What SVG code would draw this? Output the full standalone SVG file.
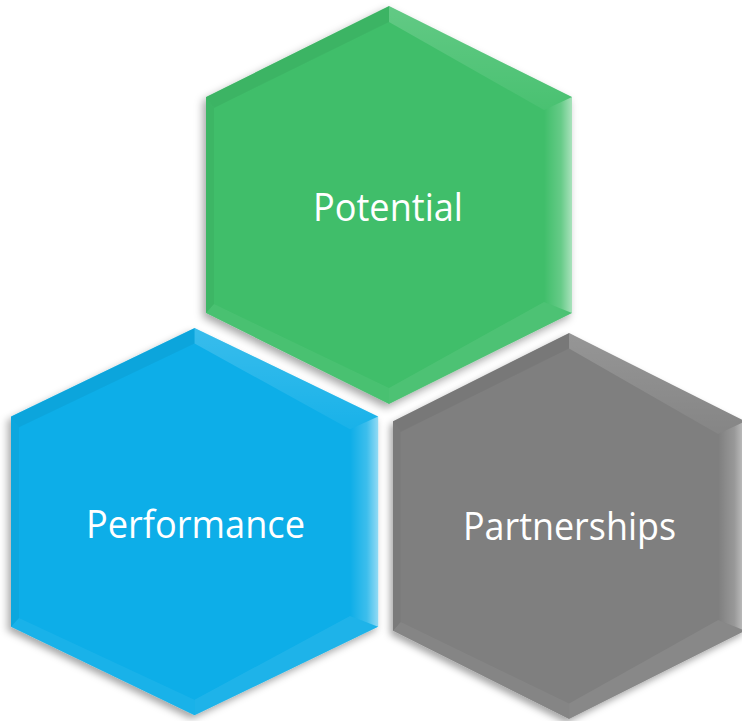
<svg xmlns="http://www.w3.org/2000/svg" xmlns:xlink="http://www.w3.org/1999/xlink" width="742" height="721" viewBox="0 0 742 721">
<style>
.lbl{font-family:"Open Sans","Noto Sans","Liberation Sans",sans-serif;font-size:38px;fill:#ffffff;text-anchor:middle}
</style>
<defs>
<filter id="sh" x="-10%" y="-10%" width="120%" height="125%">
<feDropShadow dx="-3" dy="4" stdDeviation="4" flood-color="#000" flood-opacity="0.35"/>
</filter>
<linearGradient id="rg" x1="0" y1="0" x2="1" y2="0">
<stop offset="0" stop-color="#fff" stop-opacity="0"/>
<stop offset="0.6" stop-color="#fff" stop-opacity="0.2"/>
<stop offset="1" stop-color="#fff" stop-opacity="0.55"/>
</linearGradient>
<linearGradient id="tr" x1="0" y1="0" x2="0" y2="1">
<stop offset="0" stop-color="#fff" stop-opacity="0.18"/>
<stop offset="1" stop-color="#fff" stop-opacity="0.05"/>
</linearGradient>
<polygon id="hex" points="183,0 366,91 366,307 183,398 0,307 0,91"/>
<g id="bevel">
<polygon points="183,0 0,91 8,102 183,16" fill="#000" fill-opacity="0.05"/>
<polygon points="183,0 366,91 338,104 183,16" fill="url(#tr)"/>
<polygon points="366,91 366,307 338,296 338,104" fill="url(#rg)"/>
<polygon points="366,307 183,398 183,382 338,296" fill="#fff" fill-opacity="0.07"/>
<polygon points="183,398 0,307 8,298 183,382" fill="#fff" fill-opacity="0.05"/>
<polygon points="0,307 0,91 8,102 8,298" fill="#000" fill-opacity="0.04"/>
</g>
</defs>
<g id="node-potential">
<g transform="translate(206,6)">
<use xlink:href="#hex" fill="#41be6a" filter="url(#sh)"/>
<use xlink:href="#bevel"/>
</g>
<text class="lbl" x="388" y="221" textLength="150" lengthAdjust="spacingAndGlyphs">Potential</text>
</g>
<g id="node-performance">
<g transform="translate(11,328) scale(1.003,0.973)">
<use xlink:href="#hex" fill="#0aaee8" filter="url(#sh)"/>
<use xlink:href="#bevel"/>
</g>
<text class="lbl" x="195.5" y="538" textLength="219" lengthAdjust="spacingAndGlyphs">Performance</text>
</g>
<g id="node-partnerships">
<g transform="translate(393,333) scale(0.962,0.97)">
<use xlink:href="#hex" fill="#7f7f7f" filter="url(#sh)"/>
<use xlink:href="#bevel"/>
</g>
<text class="lbl" x="569.5" y="540" textLength="213" lengthAdjust="spacingAndGlyphs">Partnerships</text>
</g>
<g id="connectors"></g>
</svg>
